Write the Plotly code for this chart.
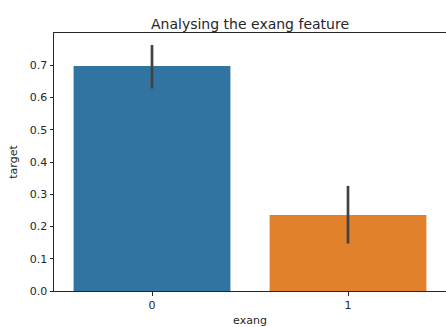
import plotly.graph_objects as go

# Mean of target per exang group, with 95% CI bounds
categories = [0, 1]
means = [0.698, 0.236]
ci_low = [0.628, 0.147]
ci_high = [0.763, 0.326]
colors = ["#3274a1", "#e1812c"]
y_ticks = [0.0, 0.1, 0.2, 0.3, 0.4, 0.5, 0.6, 0.7]

err_plus = [h - m for h, m in zip(ci_high, means)]
err_minus = [m - l for m, l in zip(means, ci_low)]

fig = go.Figure(
    go.Bar(
        x=categories,
        y=means,
        width=0.8,
        marker=dict(color=colors, line=dict(width=0)),
        error_y=dict(
            type="data",
            symmetric=False,
            array=err_plus,
            arrayminus=err_minus,
            width=0,
            thickness=2.7,
            color="#424242",
        ),
    )
)

font = "DejaVu Sans, sans-serif"
fig.update_layout(
    width=446,
    height=327,
    margin=dict(l=54, r=0, t=33, b=36),
    plot_bgcolor="white",
    paper_bgcolor="white",
    showlegend=False,
    font=dict(family=font, size=11, color="#262626"),
    title=dict(
        text="Analysing the exang feature",
        x=0.5,
        xref="paper",
        y=1,
        yref="paper",
        yanchor="bottom",
        pad=dict(b=4),
        font=dict(size=14, color="#262626"),
    ),
    xaxis=dict(
        range=[-0.5, 1.5],
        tickvals=categories,
        ticktext=[str(c) for c in categories],
        showgrid=False,
        zeroline=False,
        showline=True,
        linecolor="#262626",
        linewidth=1,
        mirror=True,
        ticks="outside",
        ticklen=3.5,
        tickcolor="#262626",
        title=dict(text="exang", standoff=8, font=dict(size=11)),
    ),
    yaxis=dict(
        range=[0, 0.80],
        tickvals=y_ticks,
        tickformat=".1f",
        showgrid=False,
        zeroline=False,
        showline=True,
        linecolor="#262626",
        linewidth=1,
        mirror=False,
        ticks="outside",
        ticklen=3.5,
        tickcolor="#262626",
        title=dict(text="target", standoff=9, font=dict(size=11)),
    ),
)

fig.write_html("out.html")
